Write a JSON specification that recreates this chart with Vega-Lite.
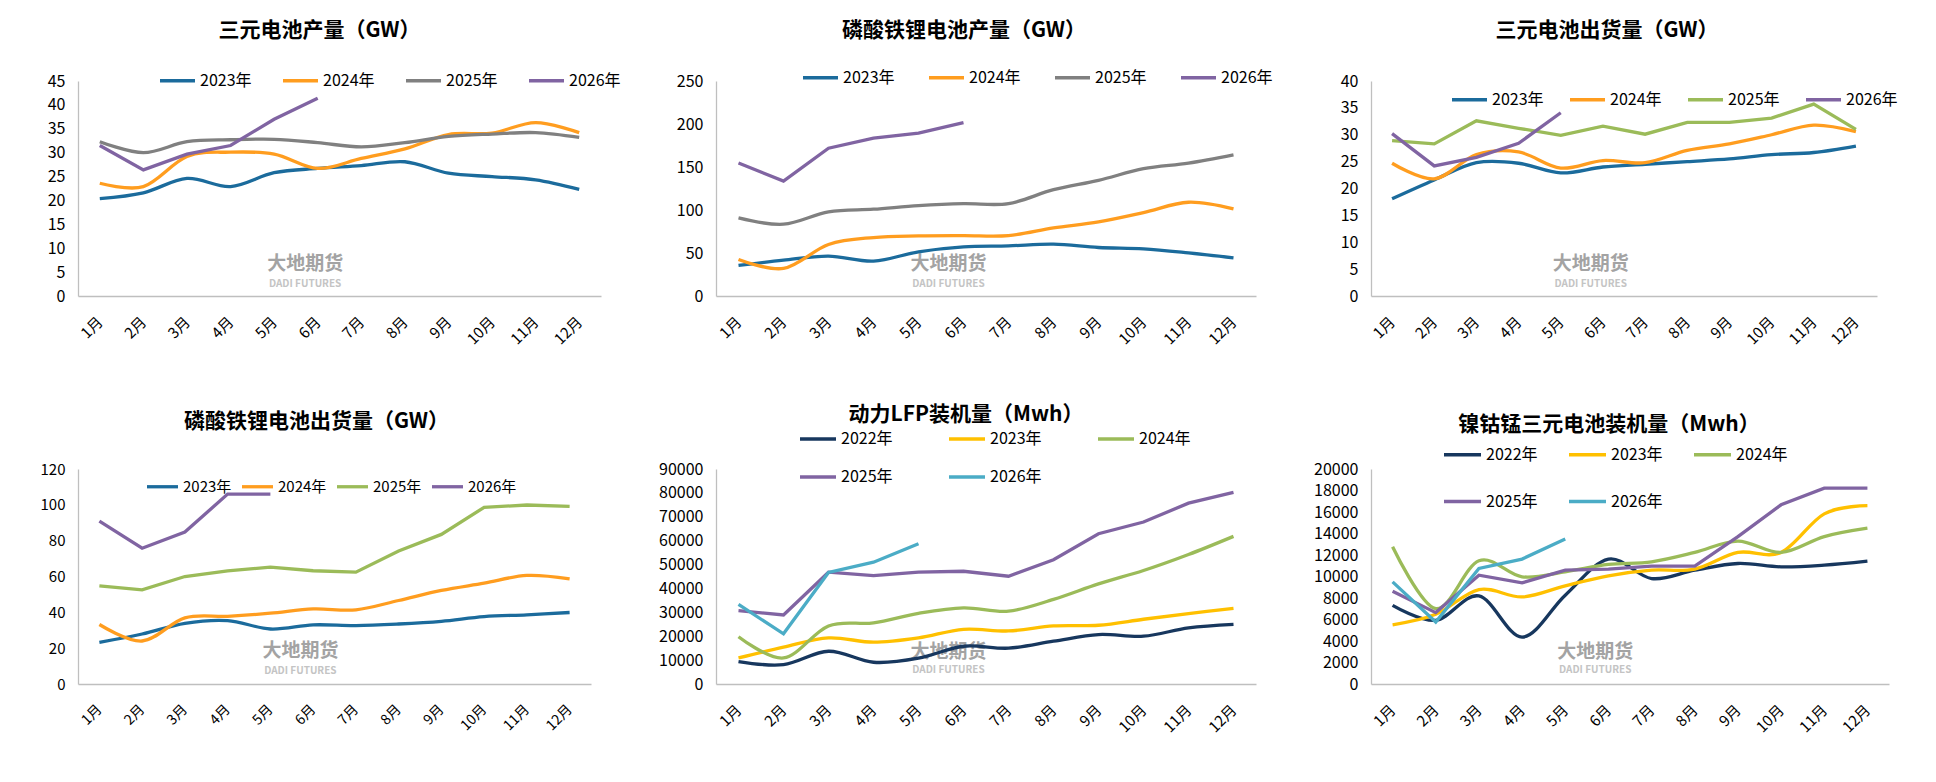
{
  "$schema": "https://vega.github.io/schema/vega-lite/v6.json",
  "background": "white",
  "padding": {"left": 40, "top": 19, "right": 5, "bottom": 5},
  "datasets": {
    "p1": [
      {"month":"1月","year":"2023年","value":20.4},{"month":"2月","year":"2023年","value":21.6},{"month":"3月","year":"2023年","value":24.6},{"month":"4月","year":"2023年","value":22.9},{"month":"5月","year":"2023年","value":25.8},{"month":"6月","year":"2023年","value":26.7},{"month":"7月","year":"2023年","value":27.3},{"month":"8月","year":"2023年","value":28.1},{"month":"9月","year":"2023年","value":25.7},{"month":"10月","year":"2023年","value":25.0},{"month":"11月","year":"2023年","value":24.3},{"month":"12月","year":"2023年","value":22.3},
      {"month":"1月","year":"2024年","value":23.6},{"month":"2月","year":"2024年","value":22.9},{"month":"3月","year":"2024年","value":29.2},{"month":"4月","year":"2024年","value":30.1},{"month":"5月","year":"2024年","value":29.7},{"month":"6月","year":"2024年","value":26.7},{"month":"7月","year":"2024年","value":28.8},{"month":"8月","year":"2024年","value":30.8},{"month":"9月","year":"2024年","value":33.8},{"month":"10月","year":"2024年","value":34.1},{"month":"11月","year":"2024年","value":36.3},{"month":"12月","year":"2024年","value":34.2},
      {"month":"1月","year":"2025年","value":32.3},{"month":"2月","year":"2025年","value":30.0},{"month":"3月","year":"2025年","value":32.3},{"month":"4月","year":"2025年","value":32.7},{"month":"5月","year":"2025年","value":32.8},{"month":"6月","year":"2025年","value":32.1},{"month":"7月","year":"2025年","value":31.2},{"month":"8月","year":"2025年","value":32.1},{"month":"9月","year":"2025年","value":33.4},{"month":"10月","year":"2025年","value":33.9},{"month":"11月","year":"2025年","value":34.2},{"month":"12月","year":"2025年","value":33.2},
      {"month":"1月","year":"2026年","value":31.5},{"month":"2月","year":"2026年","value":26.4},{"month":"3月","year":"2026年","value":29.7},{"month":"4月","year":"2026年","value":31.5},{"month":"5月","year":"2026年","value":37.0},{"month":"6月","year":"2026年","value":41.4}
    ],
    "p2": [
      {"month":"1月","year":"2023年","value":35.5},{"month":"2月","year":"2023年","value":41.7},{"month":"3月","year":"2023年","value":46.4},{"month":"4月","year":"2023年","value":40.6},{"month":"5月","year":"2023年","value":51.4},{"month":"6月","year":"2023年","value":57.2},{"month":"7月","year":"2023年","value":58.3},{"month":"8月","year":"2023年","value":60.3},{"month":"9月","year":"2023年","value":56.4},{"month":"10月","year":"2023年","value":54.9},{"month":"11月","year":"2023年","value":50.2},{"month":"12月","year":"2023年","value":44.4},
      {"month":"1月","year":"2024年","value":42.5},{"month":"2月","year":"2024年","value":32.1},{"month":"3月","year":"2024年","value":59.9},{"month":"4月","year":"2024年","value":68.0},{"month":"5月","year":"2024年","value":69.9},{"month":"6月","year":"2024年","value":70.3},{"month":"7月","year":"2024年","value":70.3},{"month":"8月","year":"2024年","value":79.2},{"month":"9月","year":"2024年","value":86.2},{"month":"10月","year":"2024年","value":97.0},{"month":"11月","year":"2024年","value":109.0},{"month":"12月","year":"2024年","value":101.2},
      {"month":"1月","year":"2025年","value":90.8},{"month":"2月","year":"2025年","value":83.5},{"month":"3月","year":"2025年","value":97.8},{"month":"4月","year":"2025年","value":100.9},{"month":"5月","year":"2025年","value":105.1},{"month":"6月","year":"2025年","value":107.4},{"month":"7月","year":"2025年","value":107.4},{"month":"8月","year":"2025年","value":123.6},{"month":"9月","year":"2025年","value":134.5},{"month":"10月","year":"2025年","value":148.0},{"month":"11月","year":"2025年","value":154.6},{"month":"12月","year":"2025年","value":164.2},
      {"month":"1月","year":"2026年","value":154.6},{"month":"2月","year":"2026年","value":133.7},{"month":"3月","year":"2026年","value":171.9},{"month":"4月","year":"2026年","value":183.5},{"month":"5月","year":"2026年","value":189.3},{"month":"6月","year":"2026年","value":201.7}
    ],
    "p3": [
      {"month":"1月","year":"2023年","value":18.1},{"month":"2月","year":"2023年","value":21.6},{"month":"3月","year":"2023年","value":24.8},{"month":"4月","year":"2023年","value":24.7},{"month":"5月","year":"2023年","value":22.9},{"month":"6月","year":"2023年","value":24.0},{"month":"7月","year":"2023年","value":24.5},{"month":"8月","year":"2023年","value":25.0},{"month":"9月","year":"2023年","value":25.5},{"month":"10月","year":"2023年","value":26.3},{"month":"11月","year":"2023年","value":26.7},{"month":"12月","year":"2023年","value":27.9},
      {"month":"1月","year":"2024年","value":24.7},{"month":"2月","year":"2024年","value":21.8},{"month":"3月","year":"2024年","value":26.3},{"month":"4月","year":"2024年","value":26.8},{"month":"5月","year":"2024年","value":23.8},{"month":"6月","year":"2024年","value":25.2},{"month":"7月","year":"2024年","value":24.8},{"month":"8月","year":"2024年","value":27.1},{"month":"9月","year":"2024年","value":28.3},{"month":"10月","year":"2024年","value":30.0},{"month":"11月","year":"2024年","value":31.8},{"month":"12月","year":"2024年","value":30.6},
      {"month":"1月","year":"2025年","value":28.9},{"month":"2月","year":"2025年","value":28.3},{"month":"3月","year":"2025年","value":32.6},{"month":"4月","year":"2025年","value":31.2},{"month":"5月","year":"2025年","value":29.9},{"month":"6月","year":"2025年","value":31.6},{"month":"7月","year":"2025年","value":30.1},{"month":"8月","year":"2025年","value":32.3},{"month":"9月","year":"2025年","value":32.3},{"month":"10月","year":"2025年","value":33.1},{"month":"11月","year":"2025年","value":35.7},{"month":"12月","year":"2025年","value":31.0},
      {"month":"1月","year":"2026年","value":30.2},{"month":"2月","year":"2026年","value":24.2},{"month":"3月","year":"2026年","value":25.8},{"month":"4月","year":"2026年","value":28.4},{"month":"5月","year":"2026年","value":34.1}
    ],
    "p4": [
      {"month":"1月","year":"2023年","value":23.3},{"month":"2月","year":"2023年","value":27.9},{"month":"3月","year":"2023年","value":33.9},{"month":"4月","year":"2023年","value":35.4},{"month":"5月","year":"2023年","value":30.7},{"month":"6月","year":"2023年","value":33.0},{"month":"7月","year":"2023年","value":32.6},{"month":"8月","year":"2023年","value":33.5},{"month":"9月","year":"2023年","value":35.0},{"month":"10月","year":"2023年","value":37.6},{"month":"11月","year":"2023年","value":38.6},{"month":"12月","year":"2023年","value":39.9},
      {"month":"1月","year":"2024年","value":33.2},{"month":"2月","year":"2024年","value":24.0},{"month":"3月","year":"2024年","value":36.9},{"month":"4月","year":"2024年","value":37.8},{"month":"5月","year":"2024年","value":39.5},{"month":"6月","year":"2024年","value":41.9},{"month":"7月","year":"2024年","value":41.4},{"month":"8月","year":"2024年","value":46.6},{"month":"9月","year":"2024年","value":52.2},{"month":"10月","year":"2024年","value":56.3},{"month":"11月","year":"2024年","value":60.6},{"month":"12月","year":"2024年","value":58.7},
      {"month":"1月","year":"2025年","value":54.8},{"month":"2月","year":"2025年","value":52.5},{"month":"3月","year":"2025年","value":60.0},{"month":"4月","year":"2025年","value":63.2},{"month":"5月","year":"2025年","value":65.2},{"month":"6月","year":"2025年","value":63.2},{"month":"7月","year":"2025年","value":62.4},{"month":"8月","year":"2025年","value":74.2},{"month":"9月","year":"2025年","value":83.5},{"month":"10月","year":"2025年","value":98.6},{"month":"11月","year":"2025年","value":99.9},{"month":"12月","year":"2025年","value":99.1},
      {"month":"1月","year":"2026年","value":90.9},{"month":"2月","year":"2026年","value":75.8},{"month":"3月","year":"2026年","value":84.8},{"month":"4月","year":"2026年","value":106.0},{"month":"5月","year":"2026年","value":106.0}
    ],
    "p5": [
      {"month":"1月","year":"2022年","value":9400},{"month":"2月","year":"2022年","value":8100},{"month":"3月","year":"2022年","value":13700},{"month":"4月","year":"2022年","value":9100},{"month":"5月","year":"2022年","value":10800},{"month":"6月","year":"2022年","value":15800},{"month":"7月","year":"2022年","value":15000},{"month":"8月","year":"2022年","value":17900},{"month":"9月","year":"2022年","value":20700},{"month":"10月","year":"2022年","value":20000},{"month":"11月","year":"2022年","value":23500},{"month":"12月","year":"2022年","value":25000},
      {"month":"1月","year":"2023年","value":10900},{"month":"2月","year":"2023年","value":15400},{"month":"3月","year":"2023年","value":19300},{"month":"4月","year":"2023年","value":17500},{"month":"5月","year":"2023年","value":19300},{"month":"6月","year":"2023年","value":22900},{"month":"7月","year":"2023年","value":22200},{"month":"8月","year":"2023年","value":24300},{"month":"9月","year":"2023年","value":24600},{"month":"10月","year":"2023年","value":27100},{"month":"11月","year":"2023年","value":29500},{"month":"12月","year":"2023年","value":31700},
      {"month":"1月","year":"2024年","value":19800},{"month":"2月","year":"2024年","value":10900},{"month":"3月","year":"2024年","value":24300},{"month":"4月","year":"2024年","value":25600},{"month":"5月","year":"2024年","value":29600},{"month":"6月","year":"2024年","value":31900},{"month":"7月","year":"2024年","value":30500},{"month":"8月","year":"2024年","value":35400},{"month":"9月","year":"2024年","value":41900},{"month":"10月","year":"2024年","value":47500},{"month":"11月","year":"2024年","value":54200},{"month":"12月","year":"2024年","value":61800},
      {"month":"1月","year":"2025年","value":30700},{"month":"2月","year":"2025年","value":28900},{"month":"3月","year":"2025年","value":46800},{"month":"4月","year":"2025年","value":45400},{"month":"5月","year":"2025年","value":46800},{"month":"6月","year":"2025年","value":47200},{"month":"7月","year":"2025年","value":45100},{"month":"8月","year":"2025年","value":52000},{"month":"9月","year":"2025年","value":62900},{"month":"10月","year":"2025年","value":67800},{"month":"11月","year":"2025年","value":75700},{"month":"12月","year":"2025年","value":80200},
      {"month":"1月","year":"2026年","value":33300},{"month":"2月","year":"2026年","value":21000},{"month":"3月","year":"2026年","value":46700},{"month":"4月","year":"2026年","value":51000},{"month":"5月","year":"2026年","value":58700}
    ],
    "p6": [
      {"month":"1月","year":"2022年","value":7320},{"month":"2月","year":"2022年","value":5920},{"month":"3月","year":"2022年","value":8190},{"month":"4月","year":"2022年","value":4360},{"month":"5月","year":"2022年","value":8260},{"month":"6月","year":"2022年","value":11620},{"month":"7月","year":"2022年","value":9810},{"month":"8月","year":"2022年","value":10590},{"month":"9月","year":"2022年","value":11210},{"month":"10月","year":"2022年","value":10900},{"month":"11月","year":"2022年","value":11060},{"month":"12月","year":"2022年","value":11430},
      {"month":"1月","year":"2023年","value":5510},{"month":"2月","year":"2023年","value":6480},{"month":"3月","year":"2023年","value":8790},{"month":"4月","year":"2023年","value":8100},{"month":"5月","year":"2023年","value":9130},{"month":"6月","year":"2023年","value":10060},{"month":"7月","year":"2023年","value":10590},{"month":"8月","year":"2023年","value":10690},{"month":"9月","year":"2023年","value":12240},{"month":"10月","year":"2023年","value":12240},{"month":"11月","year":"2023年","value":15830},{"month":"12月","year":"2023年","value":16600},
      {"month":"1月","year":"2024年","value":12770},{"month":"2月","year":"2024年","value":7010},{"month":"3月","year":"2024年","value":11460},{"month":"4月","year":"2024年","value":9970},{"month":"5月","year":"2024年","value":10440},{"month":"6月","year":"2024年","value":11120},{"month":"7月","year":"2024年","value":11370},{"month":"8月","year":"2024年","value":12240},{"month":"9月","year":"2024年","value":13300},{"month":"10月","year":"2024年","value":12240},{"month":"11月","year":"2024年","value":13710},{"month":"12月","year":"2024年","value":14490},
      {"month":"1月","year":"2025年","value":8630},{"month":"2月","year":"2025年","value":6640},{"month":"3月","year":"2025年","value":10120},{"month":"4月","year":"2025年","value":9410},{"month":"5月","year":"2025年","value":10590},{"month":"6月","year":"2025年","value":10690},{"month":"7月","year":"2025年","value":10970},{"month":"8月","year":"2025年","value":10970},{"month":"9月","year":"2025年","value":13710},{"month":"10月","year":"2025年","value":16670},{"month":"11月","year":"2025年","value":18220},{"month":"12月","year":"2025年","value":18220},
      {"month":"1月","year":"2026年","value":9500},{"month":"2月","year":"2026年","value":5760},{"month":"3月","year":"2026年","value":10750},{"month":"4月","year":"2026年","value":11620},{"month":"5月","year":"2026年","value":13490}
    ]
  },
  "columns": 3,
  "align": "each",
  "bounds": "flush",
  "spacing": {"row": 173, "column": 115},
  "resolve": {"scale": {"color": "independent", "x": "independent", "y": "independent"}, "legend": {"color": "independent"}},
  "concat": [
    {
      "width": 523, "height": 215,
      "data": {"name": "p1"},
      "title": {"text": "三元电池产量（GW）", "dx": -20, "offset": 20.5},
      "encoding": {
        "x": {"field": "month", "type": "ordinal", "title": null, "scale": {"type": "point", "padding": 0.5, "domain": ["1月","2月","3月","4月","5月","6月","7月","8月","9月","10月","11月","12月"]}},
        "y": {"field": "value", "type": "quantitative", "title": null, "scale": {"domain": [0, 45], "nice": false}, "axis": {"values": [0,5,10,15,20,25,30,35,40,45]}},
        "color": {"field": "year", "type": "nominal", "scale": {"domain": ["2023年","2024年","2025年","2026年"], "range": ["#1B6B9C","#FF9D1F","#808080","#8064A2"]}, "legend": {"legendX": 80, "legendY": -20, "columns": 4, "columnPadding": 24, "symbolSize": 1225}},
        "order": {"value": null}
      },
      "layer": [
        {"transform": [{"filter": {"and": [{"field": "month", "equal": "1月"}, {"field": "year", "equal": "2023年"}]}}], "mark": {"type": "text", "fontSize": 19, "fontWeight": "bold", "dx": 31}, "encoding": {"x": {"datum": "5月", "type": "ordinal"}, "y": {"datum": 6.8, "type": "quantitative"}, "text": {"value": "大地期货"}, "color": {"value": "#A3A3A3"}}},
        {"transform": [{"filter": {"and": [{"field": "month", "equal": "1月"}, {"field": "year", "equal": "2023年"}]}}], "mark": {"type": "text", "fontSize": 10, "fontWeight": "bold", "dx": 31}, "encoding": {"x": {"datum": "5月", "type": "ordinal"}, "y": {"datum": 2.6, "type": "quantitative"}, "text": {"value": "DADI FUTURES"}, "color": {"value": "#C4C4C4"}}},
        {"transform": [{"filter": {"field": "year", "oneOf": ["2023年","2024年","2025年"]}}], "mark": {"type": "line", "interpolate": "cardinal"}},
        {"transform": [{"filter": {"field": "year", "oneOf": ["2026年"]}}], "mark": {"type": "line", "interpolate": "linear"}}
      ]
    },
    {
      "width": 540, "height": 215,
      "data": {"name": "p2"},
      "title": {"text": "磷酸铁锂电池产量（GW）", "dx": -22, "offset": 17.5},
      "encoding": {
        "x": {"field": "month", "type": "ordinal", "title": null, "scale": {"type": "point", "padding": 0.5, "domain": ["1月","2月","3月","4月","5月","6月","7月","8月","9月","10月","11月","12月"]}},
        "y": {"field": "value", "type": "quantitative", "title": null, "scale": {"domain": [0, 250], "nice": false}, "axis": {"values": [0,50,100,150,200,250]}},
        "color": {"field": "year", "type": "nominal", "scale": {"domain": ["2023年","2024年","2025年","2026年"], "range": ["#1B6B9C","#FF9D1F","#808080","#8064A2"]}, "legend": {"legendX": 85, "legendY": -23, "columns": 4, "columnPadding": 27, "symbolSize": 1225}},
        "order": {"value": null}
      },
      "layer": [
        {"transform": [{"filter": {"and": [{"field": "month", "equal": "1月"}, {"field": "year", "equal": "2023年"}]}}], "mark": {"type": "text", "fontSize": 19, "fontWeight": "bold", "dx": 30}, "encoding": {"x": {"datum": "5月", "type": "ordinal"}, "y": {"datum": 37.5, "type": "quantitative"}, "text": {"value": "大地期货"}, "color": {"value": "#A3A3A3"}}},
        {"transform": [{"filter": {"and": [{"field": "month", "equal": "1月"}, {"field": "year", "equal": "2023年"}]}}], "mark": {"type": "text", "fontSize": 10, "fontWeight": "bold", "dx": 30}, "encoding": {"x": {"datum": "5月", "type": "ordinal"}, "y": {"datum": 14.5, "type": "quantitative"}, "text": {"value": "DADI FUTURES"}, "color": {"value": "#C4C4C4"}}},
        {"transform": [{"filter": {"field": "year", "oneOf": ["2023年","2024年","2025年"]}}], "mark": {"type": "line", "interpolate": "cardinal"}},
        {"transform": [{"filter": {"field": "year", "oneOf": ["2026年"]}}], "mark": {"type": "line", "interpolate": "linear"}}
      ]
    },
    {
      "width": 506, "height": 215,
      "data": {"name": "p3"},
      "title": {"text": "三元电池出货量（GW）", "dx": -17, "offset": 32.5},
      "encoding": {
        "x": {"field": "month", "type": "ordinal", "title": null, "scale": {"type": "point", "padding": 0.5, "domain": ["1月","2月","3月","4月","5月","6月","7月","8月","9月","10月","11月","12月"]}},
        "y": {"field": "value", "type": "quantitative", "title": null, "scale": {"domain": [0, 40], "nice": false}, "axis": {"values": [0,5,10,15,20,25,30,35,40]}},
        "color": {"field": "year", "type": "nominal", "scale": {"domain": ["2023年","2024年","2025年","2026年"], "range": ["#1B6B9C","#FF9D1F","#9BBB59","#8064A2"]}, "legend": {"legendX": 79, "legendY": -1, "columns": 4, "columnPadding": 19, "symbolSize": 1225}},
        "order": {"value": null}
      },
      "layer": [
        {"transform": [{"filter": {"and": [{"field": "month", "equal": "1月"}, {"field": "year", "equal": "2023年"}]}}], "mark": {"type": "text", "fontSize": 19, "fontWeight": "bold", "dx": 30}, "encoding": {"x": {"datum": "5月", "type": "ordinal"}, "y": {"datum": 6.0, "type": "quantitative"}, "text": {"value": "大地期货"}, "color": {"value": "#A3A3A3"}}},
        {"transform": [{"filter": {"and": [{"field": "month", "equal": "1月"}, {"field": "year", "equal": "2023年"}]}}], "mark": {"type": "text", "fontSize": 10, "fontWeight": "bold", "dx": 30}, "encoding": {"x": {"datum": "5月", "type": "ordinal"}, "y": {"datum": 2.3, "type": "quantitative"}, "text": {"value": "DADI FUTURES"}, "color": {"value": "#C4C4C4"}}},
        {"transform": [{"filter": {"field": "year", "oneOf": ["2023年","2024年"]}}], "mark": {"type": "line", "interpolate": "cardinal"}},
        {"transform": [{"filter": {"field": "year", "oneOf": ["2025年","2026年"]}}], "mark": {"type": "line", "interpolate": "linear"}}
      ]
    },
    {
      "width": 513, "height": 215,
      "data": {"name": "p4"},
      "title": {"text": "磷酸铁锂电池出货量（GW）", "dx": -18, "offset": 30},
      "encoding": {
        "x": {"field": "month", "type": "ordinal", "title": null, "scale": {"type": "point", "padding": 0.5, "domain": ["1月","2月","3月","4月","5月","6月","7月","8月","9月","10月","11月","12月"]}, "axis": {"labelFontSize": 14}},
        "y": {"field": "value", "type": "quantitative", "title": null, "scale": {"domain": [0, 120], "nice": false}, "axis": {"values": [0,20,40,60,80,100,120], "labelFontSize": 15}},
        "color": {"field": "year", "type": "nominal", "scale": {"domain": ["2023年","2024年","2025年","2026年"], "range": ["#1B6B9C","#FF9D1F","#9BBB59","#8064A2"]}, "legend": {"legendX": 67, "legendY": 0, "columns": 4, "columnPadding": 3, "symbolSize": 961, "labelFontSize": 15}},
        "order": {"value": null}
      },
      "layer": [
        {"transform": [{"filter": {"and": [{"field": "month", "equal": "1月"}, {"field": "year", "equal": "2023年"}]}}], "mark": {"type": "text", "fontSize": 19, "fontWeight": "bold", "dx": 30}, "encoding": {"x": {"datum": "5月", "type": "ordinal"}, "y": {"datum": 18.5, "type": "quantitative"}, "text": {"value": "大地期货"}, "color": {"value": "#A3A3A3"}}},
        {"transform": [{"filter": {"and": [{"field": "month", "equal": "1月"}, {"field": "year", "equal": "2023年"}]}}], "mark": {"type": "text", "fontSize": 10, "fontWeight": "bold", "dx": 30}, "encoding": {"x": {"datum": "5月", "type": "ordinal"}, "y": {"datum": 7.5, "type": "quantitative"}, "text": {"value": "DADI FUTURES"}, "color": {"value": "#C4C4C4"}}},
        {"transform": [{"filter": {"field": "year", "oneOf": ["2023年","2024年"]}}], "mark": {"type": "line", "interpolate": "cardinal"}},
        {"transform": [{"filter": {"field": "year", "oneOf": ["2025年","2026年"]}}], "mark": {"type": "line", "interpolate": "linear"}}
      ]
    },
    {
      "width": 540, "height": 215,
      "data": {"name": "p5"},
      "title": {"text": "动力LFP装机量（Mwh）", "dx": -20, "offset": -6},
      "encoding": {
        "x": {"field": "month", "type": "ordinal", "title": null, "scale": {"type": "point", "padding": 0.5, "domain": ["1月","2月","3月","4月","5月","6月","7月","8月","9月","10月","11月","12月"]}},
        "y": {"field": "value", "type": "quantitative", "title": null, "scale": {"domain": [0, 90000], "nice": false}, "axis": {"values": [0,10000,20000,30000,40000,50000,60000,70000,80000,90000], "format": "d"}},
        "color": {"field": "year", "type": "nominal", "scale": {"domain": ["2022年","2023年","2024年","2025年","2026年"], "range": ["#17375E","#FFC000","#9BBB59","#8064A2","#4BACC6"]}, "legend": {"legendX": 82, "legendY": -50, "columns": 3, "columnPadding": 49, "rowPadding": 10, "symbolSize": 1296}},
        "order": {"value": null}
      },
      "layer": [
        {"transform": [{"filter": {"and": [{"field": "month", "equal": "1月"}, {"field": "year", "equal": "2022年"}]}}], "mark": {"type": "text", "fontSize": 19, "fontWeight": "bold", "dx": 30}, "encoding": {"x": {"datum": "5月", "type": "ordinal"}, "y": {"datum": 13500, "type": "quantitative"}, "text": {"value": "大地期货"}, "color": {"value": "#A3A3A3"}}},
        {"transform": [{"filter": {"and": [{"field": "month", "equal": "1月"}, {"field": "year", "equal": "2022年"}]}}], "mark": {"type": "text", "fontSize": 10, "fontWeight": "bold", "dx": 30}, "encoding": {"x": {"datum": "5月", "type": "ordinal"}, "y": {"datum": 6000, "type": "quantitative"}, "text": {"value": "DADI FUTURES"}, "color": {"value": "#C4C4C4"}}},
        {"transform": [{"filter": {"field": "year", "oneOf": ["2022年","2023年","2024年"]}}], "mark": {"type": "line", "interpolate": "cardinal"}},
        {"transform": [{"filter": {"field": "year", "oneOf": ["2025年","2026年"]}}], "mark": {"type": "line", "interpolate": "linear"}}
      ]
    },
    {
      "width": 518, "height": 215,
      "data": {"name": "p6"},
      "title": {"text": "镍钴锰三元电池装机量（Mwh）", "dx": -21, "offset": -0.5},
      "encoding": {
        "x": {"field": "month", "type": "ordinal", "title": null, "scale": {"type": "point", "padding": 0.5, "domain": ["1月","2月","3月","4月","5月","6月","7月","8月","9月","10月","11月","12月"]}},
        "y": {"field": "value", "type": "quantitative", "title": null, "scale": {"domain": [0, 20000], "nice": false}, "axis": {"values": [0,2000,4000,6000,8000,10000,12000,14000,16000,18000,20000], "format": "d"}},
        "color": {"field": "year", "type": "nominal", "scale": {"domain": ["2022年","2023年","2024年","2025年","2026年"], "range": ["#17375E","#FFC000","#9BBB59","#8064A2","#4BACC6"]}, "legend": {"legendX": 71, "legendY": -35, "columns": 3, "columnPadding": 24, "rowPadding": 18, "symbolSize": 1369}},
        "order": {"value": null}
      },
      "layer": [
        {"transform": [{"filter": {"and": [{"field": "month", "equal": "1月"}, {"field": "year", "equal": "2022年"}]}}], "mark": {"type": "text", "fontSize": 19, "fontWeight": "bold", "dx": 30}, "encoding": {"x": {"datum": "5月", "type": "ordinal"}, "y": {"datum": 3000, "type": "quantitative"}, "text": {"value": "大地期货"}, "color": {"value": "#A3A3A3"}}},
        {"transform": [{"filter": {"and": [{"field": "month", "equal": "1月"}, {"field": "year", "equal": "2022年"}]}}], "mark": {"type": "text", "fontSize": 10, "fontWeight": "bold", "dx": 30}, "encoding": {"x": {"datum": "5月", "type": "ordinal"}, "y": {"datum": 1300, "type": "quantitative"}, "text": {"value": "DADI FUTURES"}, "color": {"value": "#C4C4C4"}}},
        {"transform": [{"filter": {"field": "year", "oneOf": ["2022年","2023年","2024年"]}}], "mark": {"type": "line", "interpolate": "cardinal"}},
        {"transform": [{"filter": {"field": "year", "oneOf": ["2025年","2026年"]}}], "mark": {"type": "line", "interpolate": "linear"}}
      ]
    }
  ],
  "config": {
    "font": "Noto Sans CJK SC",
    "view": {"stroke": null},
    "axis": {"domainColor": "#BFBFBF", "domainWidth": 1.3, "ticks": false, "grid": false, "labelColor": "#000000", "labelFont": "Noto Sans CJK SC"},
    "axisY": {"labelFontSize": 16, "labelPadding": 13},
    "axisX": {"labelFontSize": 15, "labelAngle": -45, "labelAlign": "right", "labelBaseline": "middle", "labelPadding": 23},
    "title": {"font": "Noto Sans CJK SC", "fontSize": 21, "fontWeight": "bold", "color": "#000000", "baseline": "alphabetic", "anchor": "middle", "frame": "group"},
    "legend": {"orient": "none", "direction": "horizontal", "title": null, "symbolType": "stroke", "symbolStrokeWidth": 4, "labelFontSize": 16, "labelColor": "#000000", "labelFont": "Noto Sans CJK SC", "labelOffset": 3, "padding": 0},
    "line": {"strokeWidth": 3.3},
    "text": {"font": "Noto Sans CJK SC"}
  }
}
